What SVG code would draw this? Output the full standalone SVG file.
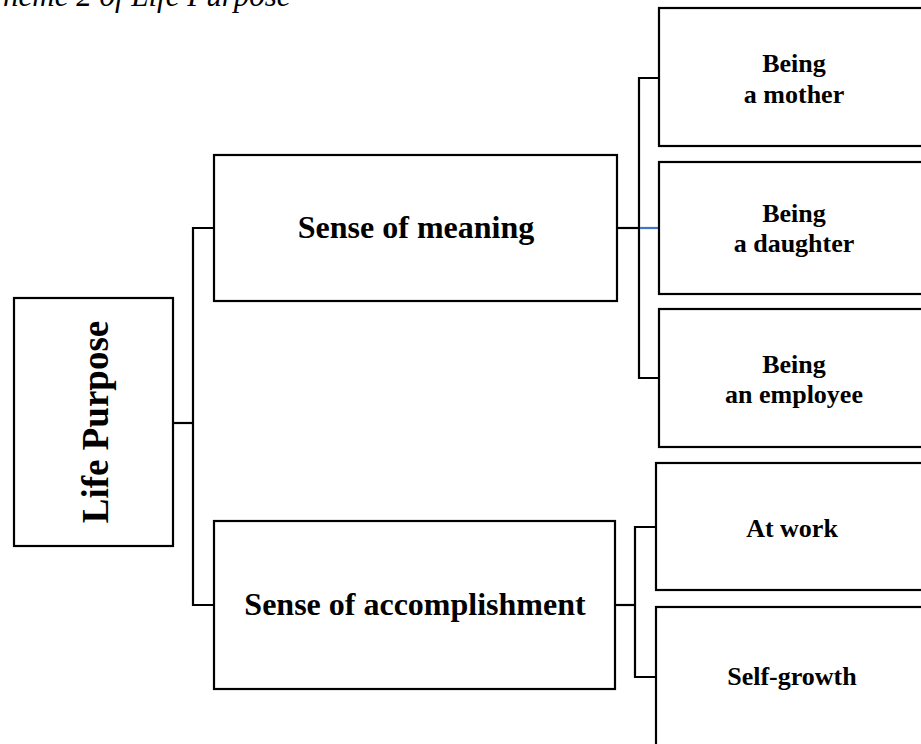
<svg xmlns="http://www.w3.org/2000/svg" width="921" height="744" viewBox="0 0 921 744">
  <style>
    .box { fill: #ffffff; stroke: #000000; stroke-width: 2.2; }
    .link { fill: none; stroke: #000000; stroke-width: 2.2; }
    .link-blue { fill: none; stroke: #4472c4; stroke-width: 2.2; }
    .lbl { font-family: "Liberation Serif", "Times New Roman", serif; font-weight: bold; fill: #000000; text-anchor: middle; }
    .big { font-size: 32px; }
    .small { font-size: 26px; }
    .title { font-family: "Liberation Serif", "Times New Roman", serif; font-style: italic; font-size: 31px; fill: #000000; }
  </style>
  <rect width="921" height="744" fill="#ffffff"/>

  <text class="title" x="3" y="6">heme 2 of Life Purpose</text>

  <g id="connectors">
    <!-- root to level 1 -->
    <polyline class="link" points="173,423 193,423"/>
    <polyline class="link" points="214,228 193,228 193,605 214,605"/>
    <!-- Sense of meaning to children -->
    <polyline class="link" points="617,228 639,228"/>
    <polyline class="link" points="659,78 639,78 639,378 659,378"/>
    <line class="link-blue" x1="640" y1="228" x2="659" y2="228"/>
    <!-- Sense of accomplishment to children -->
    <polyline class="link" points="615,605 635,605"/>
    <polyline class="link" points="656,527 635,527 635,677 656,677"/>
  </g>

  <g id="life-purpose">
    <rect class="box" x="14" y="298" width="159" height="248"/>
    <text class="lbl" font-size="37" transform="translate(108,422) rotate(-90)">Life Purpose</text>
  </g>

  <g id="sense-of-meaning">
    <rect class="box" x="214" y="155" width="403" height="146"/>
    <text class="lbl big" x="416" y="238">Sense of meaning</text>
  </g>

  <g id="sense-of-accomplishment">
    <rect class="box" x="214" y="521" width="401" height="168"/>
    <text class="lbl big" x="415" y="615">Sense of accomplishment</text>
  </g>

  <g id="being-a-mother">
    <rect class="box" x="659" y="8" width="280" height="138"/>
    <text class="lbl small" x="794" y="72">Being</text>
    <text class="lbl small" x="794" y="103">a mother</text>
  </g>

  <g id="being-a-daughter">
    <rect class="box" x="659" y="162" width="280" height="132"/>
    <text class="lbl small" x="794" y="222">Being</text>
    <text class="lbl small" x="794" y="252">a daughter</text>
  </g>

  <g id="being-an-employee">
    <rect class="box" x="659" y="309" width="280" height="138"/>
    <text class="lbl small" x="794" y="373">Being</text>
    <text class="lbl small" x="794" y="403">an employee</text>
  </g>

  <g id="at-work">
    <rect class="box" x="656" y="463" width="280" height="127"/>
    <text class="lbl small" x="792" y="537">At work</text>
  </g>

  <g id="self-growth">
    <rect class="box" x="656" y="607" width="280" height="160"/>
    <text class="lbl small" x="792" y="685">Self-growth</text>
  </g>
</svg>
